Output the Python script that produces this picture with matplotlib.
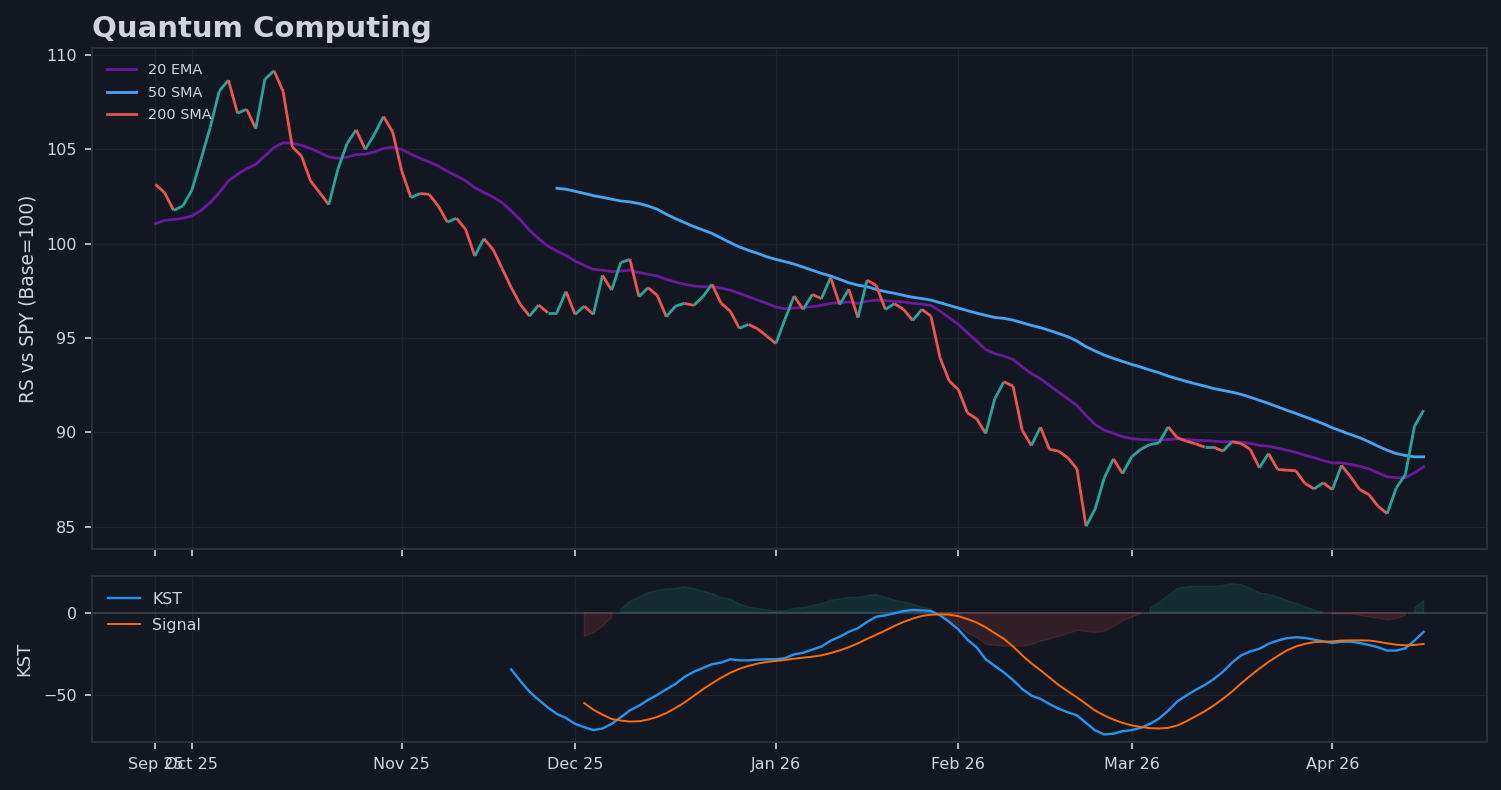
import numpy as np
import matplotlib
matplotlib.use("Agg")
import matplotlib.pyplot as plt
from matplotlib.collections import LineCollection

# -----------------------------
# Data (trading-day index, 0 = Sep 25 2025)
# -----------------------------

rs = [
    103.15, 102.71, 101.77, 102.0, 102.85, 104.48, 106.16, 108.1, 108.67, 106.92,
    107.13, 106.1, 108.73, 109.17, 108.07, 105.13, 104.66, 103.33, 102.71, 102.07,
    103.95, 105.31, 106.04, 105.0, 105.8, 106.74, 105.93, 103.86, 102.45, 102.66,
    102.62, 102.0, 101.15, 101.35, 100.76, 99.35, 100.27, 99.7, 98.69, 97.67,
    96.78, 96.16, 96.75, 96.34, 96.34, 97.46, 96.25, 96.69, 96.25, 98.32,
    97.54, 99.0, 99.17, 97.19, 97.67, 97.26, 96.13, 96.69, 96.84, 96.73,
    97.19, 97.85, 96.84, 96.43, 95.51, 95.72, 95.49, 95.1, 94.71, 95.99,
    97.22, 96.52, 97.31, 97.09, 98.2, 96.78, 97.58, 96.08, 98.07, 97.79,
    96.52, 96.82, 96.52, 95.93, 96.52, 96.16, 93.95, 92.72, 92.27, 91.03,
    90.72, 89.94, 91.78, 92.68, 92.45, 90.11, 89.3, 90.27, 89.09, 89.0,
    88.65, 88.06, 85.02, 85.94, 87.59, 88.59, 87.81, 88.7, 89.1, 89.35,
    89.44, 90.29, 89.71, 89.53, 89.39, 89.21, 89.21, 89.0, 89.5, 89.41,
    89.09, 88.12, 88.87, 88.03, 87.99, 87.96, 87.28, 87.0, 87.32, 86.96,
    88.24, 87.64, 86.96, 86.7, 86.08, 85.69, 87.05, 87.76, 90.33, 91.17,
]

ema20 = [
    101.06, 101.24, 101.28, 101.35, 101.47, 101.77, 102.18, 102.71, 103.33, 103.68,
    103.98, 104.21, 104.66, 105.1, 105.35, 105.33, 105.22, 105.05, 104.83, 104.6,
    104.53, 104.59, 104.73, 104.75, 104.87, 105.05, 105.12, 105.0, 104.75, 104.53,
    104.34, 104.12, 103.84, 103.6, 103.33, 102.98, 102.72, 102.48, 102.18, 101.74,
    101.26, 100.71, 100.27, 99.88, 99.61, 99.38, 99.08, 98.85, 98.64, 98.6,
    98.52, 98.55, 98.6, 98.47, 98.38, 98.29, 98.11, 97.97, 97.85, 97.76,
    97.72, 97.72, 97.65, 97.54, 97.37, 97.19, 97.01, 96.84, 96.64, 96.55,
    96.59, 96.62, 96.66, 96.73, 96.84, 96.87, 96.91, 96.84, 96.95, 97.01,
    96.98, 96.94, 96.91, 96.84, 96.8, 96.73, 96.43, 96.08, 95.72, 95.28,
    94.84, 94.39, 94.17, 94.04, 93.86, 93.47, 93.12, 92.84, 92.48, 92.13,
    91.78, 91.42, 90.89, 90.41, 90.11, 89.94, 89.76, 89.67, 89.62, 89.6,
    89.58, 89.62, 89.65, 89.62, 89.58, 89.56, 89.53, 89.5, 89.5, 89.48,
    89.41, 89.3, 89.26, 89.16, 89.05, 88.94, 88.78, 88.65, 88.5, 88.38,
    88.38, 88.29, 88.2, 88.06, 87.85, 87.64, 87.59, 87.59, 87.85, 88.17,
]

sma50_start = 44
sma50 = [
    102.94, 102.89, 102.78, 102.67, 102.55, 102.46, 102.36, 102.27, 102.22, 102.13,
    102.0, 101.83, 101.56, 101.33, 101.12, 100.91, 100.73, 100.55, 100.3, 100.06,
    99.83, 99.65, 99.49, 99.31, 99.17, 99.05, 98.92, 98.76, 98.59, 98.43,
    98.29, 98.11, 97.93, 97.8, 97.72, 97.58, 97.46, 97.37, 97.26, 97.16,
    97.09, 97.01, 96.87, 96.73, 96.59, 96.45, 96.32, 96.2, 96.09, 96.04,
    95.95, 95.81, 95.67, 95.55, 95.4, 95.24, 95.07, 94.84, 94.54, 94.31,
    94.09, 93.92, 93.76, 93.6, 93.46, 93.3, 93.16, 92.98, 92.84, 92.7,
    92.57, 92.45, 92.32, 92.22, 92.13, 92.01, 91.86, 91.7, 91.53, 91.35,
    91.17, 91.0, 90.82, 90.64, 90.45, 90.24, 90.06, 89.88, 89.71, 89.5,
    89.26, 89.05, 88.87, 88.77, 88.7, 88.7,
]

kst_start = 39
kst = [
    -34.6, -41.6, -48.0, -53.0, -57.6, -61.6, -64.0, -67.6, -69.6, -71.4,
    -70.4, -67.6, -63.6, -59.4, -56.6, -53.0, -50.0, -46.6, -43.4, -39.0,
    -36.0, -33.7, -31.4, -30.4, -28.4, -29.0, -29.0, -28.6, -28.4, -28.4,
    -27.7, -25.4, -24.4, -22.5, -20.7, -17.1, -14.7, -11.7, -9.5, -5.7,
    -2.5, -1.7, -0.5, 0.9, 1.5, 1.3, 0.9, -1.7, -5.7, -10.2,
    -16.5, -21.1, -28.4, -32.4, -36.4, -41.0, -46.4, -50.4, -52.4, -55.6,
    -58.4, -60.6, -62.4, -67.0, -71.6, -74.0, -73.6, -72.0, -71.4, -70.0,
    -67.6, -64.4, -59.6, -54.0, -50.4, -47.0, -44.0, -40.4, -36.0, -30.4,
    -26.0, -23.6, -22.0, -19.0, -17.0, -15.6, -15.0, -15.4, -16.5, -17.5,
    -18.5, -17.7, -17.7, -18.5, -19.7, -21.1, -23.1, -23.1, -21.7, -17.0,
    -11.7,
]

signal_start = 47
signal = [
    -55.0, -59.0, -62.0, -64.6, -65.6, -66.2, -66.0, -65.0, -63.4, -61.0,
    -58.0, -54.6, -50.6, -46.6, -43.0, -39.6, -36.6, -34.2, -32.4, -31.0,
    -30.0, -29.4, -28.8, -28.0, -27.4, -26.8, -26.0, -24.6, -23.0, -21.0,
    -18.7, -16.0, -13.5, -10.9, -8.1, -5.7, -3.7, -2.1, -1.3, -1.1,
    -1.3, -2.2, -4.0, -6.0, -9.0, -12.5, -16.0, -20.6, -26.0, -30.8,
    -35.0, -39.5, -44.0, -47.8, -51.5, -55.5, -59.5, -62.5, -65.0, -67.0,
    -68.5, -69.5, -70.2, -70.4, -70.0, -68.6, -66.0, -63.0, -60.0, -56.4,
    -52.4, -48.0, -43.0, -38.4, -34.0, -30.0, -26.4, -23.0, -20.6, -19.0,
    -18.0, -17.7, -17.5, -17.0, -16.9, -16.9, -17.0, -17.7, -18.7, -19.5,
    -19.9, -19.7, -19.1,
]

month_ticks = [0, 4, 27, 46, 68, 88, 107, 129]
month_labels = ["Sep 25", "Oct 25", "Nov 25", "Dec 25", "Jan 26", "Feb 26", "Mar 26", "Apr 26"]

# -----------------------------
# Colors
# -----------------------------

BG = "#131722"
GRID = "#1f2330"
SPINE = "#2a2e39"
TEXT = "#d1d4dc"
UP = "#26a69a"
DOWN = "#ef5350"

plt.rcParams["font.family"] = ["DejaVu Sans"]

fig = plt.figure(figsize=(15.01, 7.9), dpi=100, facecolor=BG)
ax = fig.add_axes([0.0613, 0.3051, 0.9294, 0.6341])
ax2 = fig.add_axes([0.0613, 0.0608, 0.9294, 0.2101], sharex=ax)

for a in (ax, ax2):
    a.set_facecolor(BG)
    for s in a.spines.values():
        s.set_color(SPINE)
        s.set_linewidth(1.5)
    a.grid(True, color=GRID, linewidth=0.9)
    a.set_axisbelow(True)
    a.tick_params(colors=TEXT, labelcolor=TEXT, labelsize=11.5, length=5, width=1.2, pad=6)

# -----------------------------
# RS panel
# -----------------------------

x = np.arange(len(rs))
rs_arr = np.array(rs)
pts = np.column_stack([x, rs_arr])
segs = np.stack([pts[:-1], pts[1:]], axis=1)
seg_colors = [UP if d >= 0 else DOWN for d in np.diff(rs_arr)]
lc = LineCollection(segs, colors=seg_colors, linewidths=2.0, zorder=3)
ax.add_collection(lc, autolim=True)

ax.plot(x, ema20, color="#6a1b9a", linewidth=2.0, label="20 EMA", zorder=2)
ax.plot(np.arange(sma50_start, sma50_start + len(sma50)), sma50,
        color="#42a5f5", linewidth=2.0, label="50 SMA", zorder=2)
ax.plot([], [], color=DOWN, linewidth=2.0, label="200 SMA")
ax.autoscale_view()

ax.set_ylabel("RS vs SPY (Base=100)", color=TEXT, fontsize=13.4, labelpad=6)
ax.legend(loc="upper left", frameon=False, fontsize=10.4, labelcolor=TEXT,
          labelspacing=0.58, borderpad=0.55)
ax.tick_params(labelbottom=False)

fig.text(0.0615, 1 - 37 / 790, "Quantum Computing", color=TEXT,
         fontsize=21, fontweight="bold", va="baseline", ha="left")

# -----------------------------
# KST panel
# -----------------------------

kst_x = np.arange(kst_start, kst_start + len(kst))
sig_x = np.arange(signal_start, signal_start + len(signal))
kst_arr = np.array(kst)
hist = kst_arr[signal_start - kst_start:] - np.array(signal)

ax2.axhline(0, color="#363a45", linewidth=1.5, zorder=1)
ax2.fill_between(sig_x, 0, hist, where=hist >= 0, color=UP, alpha=0.15, zorder=1)
ax2.fill_between(sig_x, 0, hist, where=hist < 0, color=DOWN, alpha=0.15, zorder=1)
ax2.plot(kst_x, kst_arr, color="#2196f3", linewidth=1.7, label="KST", zorder=3)
ax2.plot(sig_x, signal, color="#ff6d00", linewidth=1.4, label="Signal", zorder=3)

ax2.set_ylabel("KST", color=TEXT, fontsize=13, labelpad=7)
ax2.legend(loc="upper left", frameon=False, fontsize=11.4, labelcolor=TEXT,
           labelspacing=0.7, borderpad=0.5)

ax2.set_xticks(month_ticks)
ax2.set_xticklabels(month_labels)
ax2.set_yticks([0, -50])

fig.savefig("out.png", dpi=100, facecolor=BG)
